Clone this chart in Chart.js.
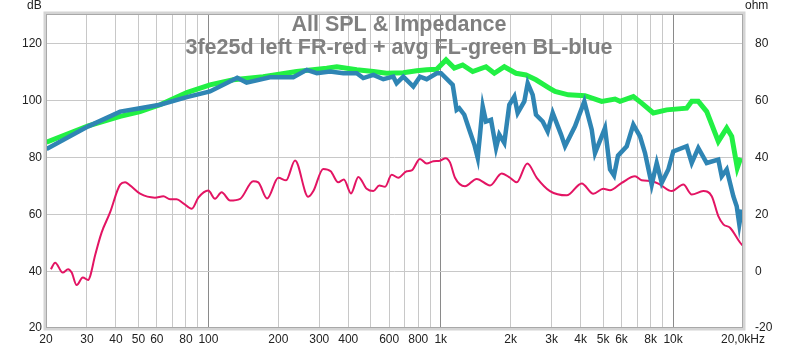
<!DOCTYPE html>
<html>
<head>
<meta charset="utf-8">
<title>All SPL & Impedance</title>
<script src="https://cdn.jsdelivr.net/npm/chart.js@4.4.1/dist/chart.umd.min.js"></script>
<style>
    html, body { margin: 0; padding: 0; background: #ffffff; }
    #wrap { width: 800px; height: 350px; }
</style>
</head>
<body>
<div id="wrap"><canvas id="spl-graph" width="800" height="350"></canvas></div>
<script>
// Title lines drawn inside the plot
const titleLines = ['All SPL & Impedance', '3fe25d left FR-red + avg FL-green BL-blue'];

// Gridlines on the frequency axis and the ones that get a label
const gridFreqs = [20, 30, 40, 50, 60, 70, 80, 90, 100,
    200, 300, 400, 500, 600, 700, 800, 900, 1000,
    2000, 3000, 4000, 5000, 6000, 7000, 8000, 9000, 10000, 20000];
const labelFreqs = [20, 30, 40, 50, 60, 80, 100, 200, 300, 400, 600, 800,
    1000, 2000, 3000, 4000, 5000, 6000, 8000, 10000, 20000];
const labelTexts = ['20', '30', '40', '50', '60', '80', '100', '200', '300', '400', '600', '800',
    '1k', '2k', '3k', '4k', '5k', '6k', '8k', '10k', '20,0kHz'];
const decadeFreqs = [100, 1000, 10000];

// Impedance (red), ohm on the right axis
const redFreq = [21, 21.9, 23.6, 24.9, 25.8, 27.1, 28.8, 30.4, 31, 32.5, 34.7, 37.7, 41.7, 43.8, 46,
    50.8, 58.9, 64, 68.4, 73, 78, 84.8, 90.5, 99.9, 106.8, 114, 124, 137, 156, 164, 179,
    200, 216, 236, 269, 283, 312, 336, 362, 383, 411, 442, 480, 513, 544, 576, 615, 657,
    714, 750, 814, 870, 929, 993, 1050, 1096, 1152, 1272, 1428, 1630, 1830, 1987, 2124,
    2358, 2590, 2953, 3486, 4044, 4537, 5008, 5354, 6012, 6858, 7328, 8094, 8786, 9868,
    11070, 12032, 13496, 14674, 15660, 16460, 17590, 19414, 20000];
const redOhm = [0.7, 3.0, -0.5, 0.7, -0.5, -4.9, -2.2, -3.1, -1.7, 5.4, 13.6, 20.6, 30.5, 31.3, 30.2,
    27.3, 25.9, 26.4, 25.3, 25.3, 23.9, 22.0, 25.9, 28.4, 25.5, 27.8, 24.9, 25.5, 31.7, 31.3, 25.6,
    32.9, 32.0, 39.0, 26.2, 28.2, 36.0, 35.2, 31.3, 32.3, 27.4, 33.2, 29.0, 28.2, 30.2, 29.7, 34.0, 32.9,
    35.2, 35.5, 39.5, 37.9, 38.7, 38.9, 39.8, 38.3, 32.9, 29.9, 32.5, 30.2, 34.4, 32.9, 31.3,
    37.9, 32.9, 28.2, 26.7, 30.9, 27.3, 29.0, 28.5, 31.1, 33.4, 32.0, 31.7, 30.5, 28.2,
    30.5, 27.0, 28.2, 26.4, 19.4, 16.5, 15.3, 10.1, 8.9];

// Average FL (green), dB
const greenFreq = [20.1, 30.4, 41.7, 50.8, 61.9, 80.7, 101.6, 128, 172, 240, 323, 357, 435, 513,
    585, 690, 788, 870, 961, 1054, 1144, 1243, 1373, 1566, 1701, 1878, 2108, 2328, 2570,
    2933, 3104, 3542, 4178, 4930, 5626, 5910, 6746, 7328, 8224, 9390, 11446, 12032, 12842,
    13960, 15660, 17018, 17884, 18898, 19550];
const greenDb = [85.4, 91.2, 94.5, 96.2, 98.6, 102.9, 105.6, 107.4, 108.5, 110.3, 111.5, 112.0, 110.9, 110.3,
    109.7, 109.9, 110.6, 110.9, 111.1, 114.4, 111.5, 112.6, 110.3, 112.0, 109.7, 112.0, 109.7, 109.1, 107.4,
    104.5, 103.3, 102.1, 101.8, 99.8, 100.6, 99.8, 101.5, 99.2, 95.7, 96.8, 97.4, 99.8, 99.8,
    96.2, 85.7, 90.4, 87.5, 76.4, 79.9];

// Average BL (blue), dB
const blueFreq = [20.1, 30.4, 41.7, 50.8, 61.9, 80.7, 101.6, 128, 133, 146, 184, 232, 265, 293, 334,
    381, 435, 464, 513, 566, 625, 646, 690, 762, 814, 870, 961, 1003, 1126, 1171, 1202, 1263,
    1327, 1395, 1443, 1516, 1566, 1646, 1730, 1787, 1878, 1973, 2074, 2144, 2290, 2368, 2488,
    2570, 2748, 2886, 3034, 3296, 3428, 3784, 4150, 4466, 4614, 5094, 5354, 5570, 5794, 6318,
    6746, 7208, 7574, 8094, 8504, 8936, 9540, 10024, 11446, 12032, 12842, 13960, 15660, 16196,
    17018, 18170, 18790, 19282, 19744];
const blueDb = [83.0, 91.0, 96.2, 97.4, 98.6, 101.3, 103.3, 107.4, 108.1, 106.4, 108.3, 108.3, 110.9, 109.7, 110.3,
    109.7, 109.7, 108.0, 109.1, 107.6, 108.5, 106.2, 108.5, 105.0, 108.5, 107.6, 109.7, 109.7, 105.6, 96.8, 97.4, 95.1,
    89.8, 84.6, 79.9, 98.0, 92.7, 93.3, 83.4, 88.1, 85.2, 98.6, 101.5, 95.7, 99.8, 106.2, 102.1,
    95.1, 92.7, 89.2, 95.7, 88.1, 84.0, 91.0, 99.8, 89.8, 81.6, 90.4, 75.8, 73.7, 80.7, 84.0,
    91.6, 87.5, 81.6, 70.5, 78.1, 71.1, 75.8, 82.2, 84.0, 78.1, 83.4, 78.1, 79.3, 73.4,
    75.8, 66.4, 62.9, 56.5, 61.7];

// Pair up frequency and level arrays for the line datasets
function toPoints(freqs, values) {
    return freqs.map((f, i) => ({ x: f, y: values[i] }));
}

const tickFont = { family: '"Liberation Sans", Arial, sans-serif', size: 12 };

// Draws the frame, the title lines and the unit labels
const decorPlugin = {
    id: 'decor',
    afterDraw(chart) {
        const ctx = chart.ctx;
        const a = chart.chartArea;
        ctx.save();

        // Frame round the plot
        ctx.strokeStyle = '#d4d4d4';
        ctx.lineWidth = 3;
        ctx.strokeRect(a.left - 1, a.top - 1, a.right - a.left + 2, a.bottom - a.top + 2);
        ctx.strokeStyle = '#a8a8a8';
        ctx.lineWidth = 1;
        ctx.strokeRect(a.left + 0.5, a.top + 0.5, a.right - a.left - 1, a.bottom - a.top - 1);

        // Title
        ctx.fillStyle = '#808080';
        ctx.textAlign = 'center';
        ctx.textBaseline = 'middle';
        ctx.font = 'bold 21.5px "Liberation Sans", Arial, sans-serif';
        ctx.fillText(titleLines[0], 399, 25);
        ctx.fillText(titleLines[1], 399, 48);

        // Units
        ctx.fillStyle = '#222222';
        ctx.font = '12px "Liberation Sans", Arial, sans-serif';
        ctx.textAlign = 'left';
        ctx.fillText('dB', 27, 6);
        ctx.fillText('ohm', 745, 6);
        ctx.restore();
    }
};

let ctx = document.getElementById('spl-graph');

let splChart = new Chart(ctx, {
    type: 'line',
    data: {
        datasets: [
            {
                label: 'BL-blue',
                data: toPoints(blueFreq, blueDb),
                yAxisID: 'yDb',
                borderColor: '#2f85b4',
                borderWidth: 4.5,
                pointRadius: 0,
                tension: 0
            },
            {
                label: 'FL-green',
                data: toPoints(greenFreq, greenDb),
                yAxisID: 'yDb',
                borderColor: '#22f044',
                borderWidth: 5,
                pointRadius: 0,
                tension: 0
            },
            {
                label: 'FR-red',
                data: toPoints(redFreq, redOhm),
                yAxisID: 'yOhm',
                borderColor: '#e31463',
                borderWidth: 2,
                pointRadius: 0,
                cubicInterpolationMode: 'monotone'
            }
        ]
    },
    options: {
        responsive: false,
        animation: false,
        devicePixelRatio: 1,
        layout: { padding: { top: 14 } },
        plugins: {
            legend: { display: false },
            title: { display: false },
            tooltip: { enabled: false }
        },
        scales: {
            // Frequency axis
            x: {
                type: 'logarithmic',
                min: 20,
                max: 20000,
                afterBuildTicks: scale => {
                    scale.ticks = gridFreqs.map(v => ({ value: v }));
                },
                afterFit: scale => { scale.height = 22; },
                border: { display: false },
                grid: {
                    drawTicks: false,
                    color: c => decadeFreqs.includes(c.tick && c.tick.value) ? '#8a8a8a' : '#c8c8c8'
                },
                ticks: {
                    autoSkip: false,
                    maxRotation: 0,
                    padding: 4,
                    color: '#222222',
                    font: tickFont,
                    callback: value => {
                        const i = labelFreqs.indexOf(value);
                        return i < 0 ? '' : labelTexts[i];
                    }
                }
            },
            // dB on the left
            yDb: {
                type: 'linear',
                position: 'left',
                min: 20,
                max: 130.56,
                afterFit: scale => { scale.width = 46; },
                border: { display: false },
                grid: { drawTicks: false, color: '#c8c8c8' },
                ticks: {
                    stepSize: 20,
                    includeBounds: false,
                    padding: 4,
                    color: '#222222',
                    font: tickFont
                }
            },
            // ohm on the right
            yOhm: {
                type: 'linear',
                position: 'right',
                min: -20,
                max: 90.56,
                afterFit: scale => { scale.width = 57; },
                border: { display: false },
                grid: { display: false },
                ticks: {
                    stepSize: 20,
                    includeBounds: false,
                    padding: 4,
                    color: '#222222',
                    font: tickFont
                }
            }
        }
    },
    plugins: [decorPlugin]
});
</script>
</body>
</html>
